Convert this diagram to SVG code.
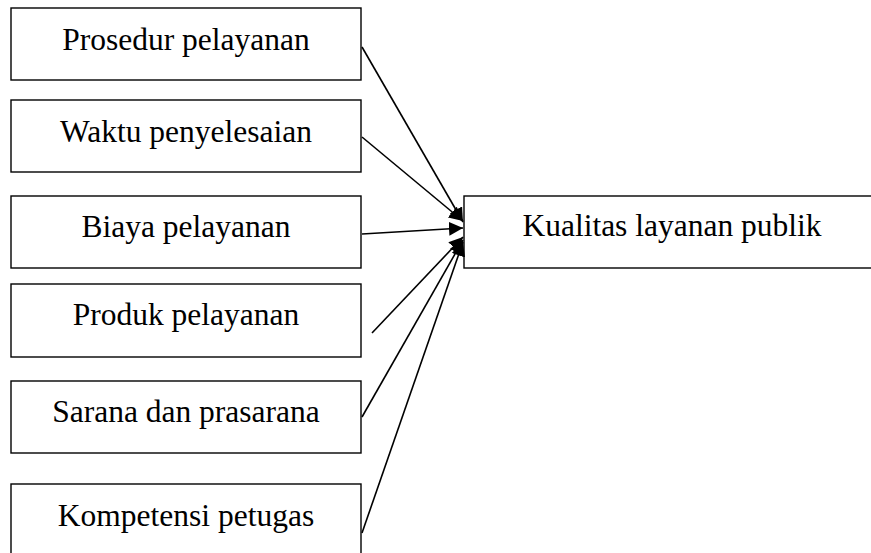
<svg xmlns="http://www.w3.org/2000/svg" width="871" height="553" viewBox="0 0 871 553">
<style>
.box{fill:#fff;stroke:#000;stroke-width:1.4}
.lbl{font-family:"Liberation Serif","Times New Roman",serif;font-size:31.5px;fill:#000;text-anchor:middle}
.con{stroke:#000;stroke-width:1.6;fill:none;marker-end:url(#ah)}
</style>
<defs>
<marker id="ah" markerUnits="userSpaceOnUse" markerWidth="16" markerHeight="14" refX="14" refY="7" orient="auto">
<path d="M0,0 L14,7 L0,14 Z" fill="#000"/>
</marker>
</defs>
<rect width="871" height="553" fill="#fff"/>
<g id="n1"><rect class="box" x="11" y="8" width="350" height="72"/><text class="lbl" x="186" y="50">Prosedur pelayanan</text></g>
<g id="n2"><rect class="box" x="11" y="100" width="350" height="72"/><text class="lbl" x="186" y="142">Waktu penyelesaian</text></g>
<g id="n3"><rect class="box" x="11" y="196" width="350" height="72"/><text class="lbl" x="186" y="237">Biaya pelayanan</text></g>
<g id="n4"><rect class="box" x="11" y="284" width="350" height="73"/><text class="lbl" x="186" y="325">Produk pelayanan</text></g>
<g id="n5"><rect class="box" x="11" y="381" width="350" height="72"/><text class="lbl" x="186" y="422">Sarana dan prasarana</text></g>
<g id="n6"><rect class="box" x="11" y="484" width="350" height="80"/><text class="lbl" x="186" y="526">Kompetensi petugas</text></g>
<g id="target"><rect class="box" x="464" y="196" width="420" height="72"/><text class="lbl" x="672" y="236">Kualitas layanan publik</text></g>
<g id="connectors">
<line class="con" x1="362" y1="47" x2="463" y2="222"/>
<line class="con" x1="362" y1="137" x2="463" y2="221"/>
<line class="con" x1="362" y1="234" x2="463" y2="228"/>
<line class="con" x1="372" y1="333" x2="463" y2="237"/>
<line class="con" x1="362" y1="417" x2="463" y2="240"/>
<line class="con" x1="362" y1="533" x2="463" y2="242"/>
</g>
</svg>
